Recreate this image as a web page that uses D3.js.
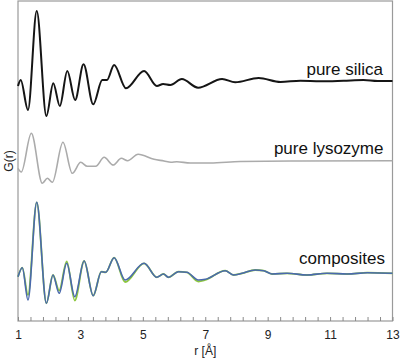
<!DOCTYPE html>
<html><head><meta charset="utf-8">
<script src="https://cdn.jsdelivr.net/npm/d3@7"></script>
<style>body{margin:0;background:#fff}svg{display:block}text{font-family:"Liberation Sans",Arial,sans-serif}</style>
</head><body><svg id="c" width="400" height="358"></svg>
<script>
// r values [Å] and G(r) (relative to each curve's own baseline)
const silicaR = [1.00,1.087,1.32,1.60,1.91,2.13,2.34,2.58,2.83,3.10,3.41,3.70,3.85,4.08,4.46,5.04,5.45,5.65,5.88,6.25,6.77,7.54,7.96,8.71,9.41,10.05,10.69,11.43,12.07,12.52,13.0];
const silicaG = [-0.5,0.1,-2.9,7.0,-3.5,-0.23,-2.5,1.0,-1.9,1.67,-2.33,0.1,0.1,1.6,-0.73,1.0,-0.5,-0.3,-0.4,0.2,-0.67,0.2,-0.13,0.3,-0.1,0.03,-0.03,0.03,0.1,0.0,0.0];

const lysoR = [1.00,1.106,1.427,1.78,1.94,2.10,2.44,2.74,3.01,3.22,3.49,3.76,4.05,4.31,4.51,4.85,5.36,5.68,5.90,6.09,6.52,7.16,8.12,10.05,13.0];
const lysoG = [-0.73,-1.1,2.77,-2.23,-1.73,-2.13,1.87,-1.23,-0.13,-0.53,-0.53,0.37,-0.4,0.27,0.03,0.67,0.17,0.0,-0.13,-0.07,-0.2,-0.2,-0.05,0.0,0.03];

const compR = [1.00,1.138,1.32,1.60,1.91,2.12,2.32,2.56,2.82,3.12,3.41,3.67,3.81,4.08,4.43,5.04,5.45,5.66,5.82,6.14,6.41,6.78,7.00,7.64,7.91,8.18,8.60,8.87,9.14,9.62,10.26,10.90,11.55,12.19,13.0];
const compBlueG = [-0.37,0.53,-2.7,7.07,-3.03,-0.2,-2.03,0.97,-2.37,1.2,-2.27,0.13,0.07,1.53,-0.7,0.97,-0.43,-0.1,-0.43,0.13,0.07,-0.7,-0.63,0.23,-0.2,-0.03,0.3,0.23,-0.1,-0.03,-0.2,-0.03,-0.1,0.03,-0.03];
const compGreenG = [-0.37,0.53,-2.2,7.07,-3.03,-0.2,-1.75,1.15,-2.75,1.2,-2.27,0.13,0.07,1.53,-0.9,0.97,-0.43,-0.1,-0.43,0.13,0.07,-0.85,-0.7,0.23,-0.2,-0.03,0.3,0.23,-0.1,-0.03,-0.2,-0.03,-0.1,0.03,-0.03];

const xTickValues = d3.range(0,31).map(i => 1 + i*0.4);
const xLabelValues = [1,3,5,7,9,11,13];
const curveLabels = ["pure silica","pure lysozyme","composites"];

const svg = d3.select("#c");
const L = 18, R = 392.5, T = 1, B = 321;
const x = d3.scaleLinear().domain([1,13]).range([L,R]);
const y = d3.scaleLinear().domain([0,32]).range([B,T]);

const offsets = {silica:24, lyso:16, comp:4.8};

function draw(rs, gs, off, color, w){
  const line = d3.line().x(d=>x(d[0])).y(d=>y(d[1]+off)).curve(d3.curveMonotoneX);
  svg.append("path").attr("d", line(rs.map((r,i)=>[r,gs[i]])))
    .attr("fill","none").attr("stroke",color).attr("stroke-width",w)
    .attr("stroke-linejoin","round");
}

// frame
svg.append("rect").attr("x",L).attr("y",T).attr("width",R-L).attr("height",B-T)
  .attr("fill","none").attr("stroke","#9a9a9a").attr("stroke-width",1.2);

draw(silicaR, silicaG, offsets.silica, "#151515", 2);
draw(lysoR, lysoG, offsets.lyso, "#ababab", 1.6);
draw(compR, compGreenG, offsets.comp, "#8cc63e", 1.8);
draw(compR, compBlueG, offsets.comp, "#4a69ad", 1.6);

// x axis ticks (inside)
const ax = svg.append("g").attr("transform",`translate(0,${B})`)
  .call(d3.axisBottom(x).tickValues(xTickValues).tickSizeInner(-4).tickSizeOuter(0).tickFormat(""));
ax.select(".domain").remove();
ax.selectAll("line").attr("stroke","#8a8a8a");

const lab = svg.append("g").attr("transform",`translate(0,${B})`)
  .call(d3.axisBottom(x).tickValues(xLabelValues).tickSize(0).tickPadding(9).tickFormat(d3.format("d")));
lab.select(".domain").remove();
lab.selectAll("text").attr("font-size",12).attr("fill","#222").attr("font-family","Liberation Sans, Arial, sans-serif");

svg.append("text").attr("x",x(7)).attr("y",355).attr("text-anchor","middle")
  .attr("font-size",12).attr("fill","#222").text("r [Å]");
svg.append("text").attr("transform","translate(13,161) rotate(-90)").attr("text-anchor","middle")
  .attr("font-size",12).attr("fill","#222").text("G(r)");

const labelPos = [[383,75],[383.5,154],[385,264]];
curveLabels.forEach((t,i)=>{
  svg.append("text").attr("x",labelPos[i][0]).attr("y",labelPos[i][1]).attr("text-anchor","end")
    .attr("font-size",17).attr("fill","#111").text(t);
});
</script></body></html>
